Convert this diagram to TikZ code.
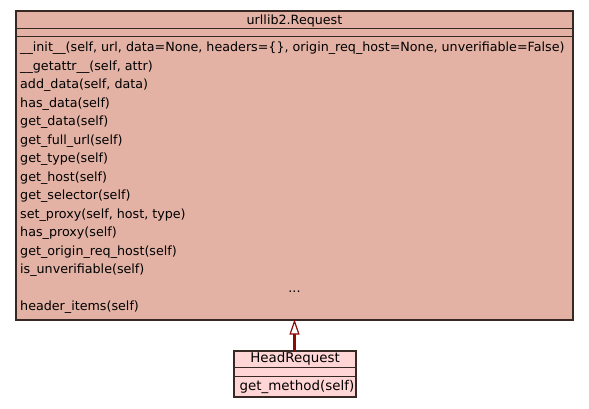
\documentclass[tikz,border=0pt]{standalone}
\usepackage{fontspec}
\setmainfont{DejaVu Sans}
\usetikzlibrary{arrows.meta}
\definecolor{bigfill}{RGB}{227,178,165}
\definecolor{smallfill}{RGB}{255,213,213}
\definecolor{edge}{RGB}{55,40,36}
\definecolor{arrowc}{RGB}{139,10,10}
\tikzset{
  boxline/.style={draw=edge, line width=1.3pt},
  txt/.style={inner sep=0pt, anchor=base west, font=\fontsize{12.7}{14}\selectfont},
  ctxt/.style={inner sep=0pt, anchor=base, font=\fontsize{12.7}{14}\selectfont},
  stxt/.style={inner sep=0pt, font=\fontsize{13.4}{15}\selectfont},
  inherit/.style={draw=arrowc, line width=2.6pt, -{Triangle[open, length=15pt, width=10pt, line width=1.2pt, fill=white]}}
}
\begin{document}
\begin{tikzpicture}[x=1pt,y=-1pt]
\useasboundingbox (0,0) rectangle (589,408);
% big class
\path[fill=bigfill, boxline] (16,11) rectangle (573,320);
\node (big) [inner sep=0pt, minimum width=557pt, minimum height=309pt, anchor=north west] at (16,11) {};
\draw[boxline] (16,28.3) -- (573,28.3);
\draw[boxline] (16,36.7) -- (573,36.7);
\node[ctxt] (bigtitle) at (294.5,24) {urllib2.Request};
\foreach \t [count=\i from 0] in {
  {\_\_init\_\_(self, url, data=None, headers=\{\}, origin\_req\_host=None, unverifiable=False)},
  {\_\_getattr\_\_(self, attr)},
  {add\_data(self, data)},
  {has\_data(self)},
  {get\_data(self)},
  {get\_full\_url(self)},
  {get\_type(self)},
  {get\_host(self)},
  {get\_selector(self)},
  {set\_proxy(self, host, type)},
  {has\_proxy(self)},
  {get\_origin\_req\_host(self)},
  {is\_unverifiable(self)}}
  { \node[txt] (m\i) at (20,{51.5+18.5*\i}) {\t}; }
\node[ctxt] (dots) at (294.5,292) {...};
\node[txt] (hi) at (20,310.5) {header\_items(self)};
% small class
\path[fill=smallfill, boxline] (234,351) rectangle (356,397);
\node (small) [inner sep=0pt, minimum width=122pt, minimum height=46pt, anchor=north west] at (234,351) {};
\draw[boxline] (234,367.3) -- (356,367.3);
\draw[boxline] (234,376.7) -- (356,376.7);
\node[stxt, anchor=base] (stitle) at (295,362.5) {HeadRequest};
\node[stxt, anchor=base west] (sm) at (239.5,390.5) {get\_method(self)};
% inheritance
\coordinate (a1) at (294.5,351);
\coordinate (a2) at (294.5,319.5);
\draw[inherit] (a1) -- (a2);
\end{tikzpicture}
\end{document}
